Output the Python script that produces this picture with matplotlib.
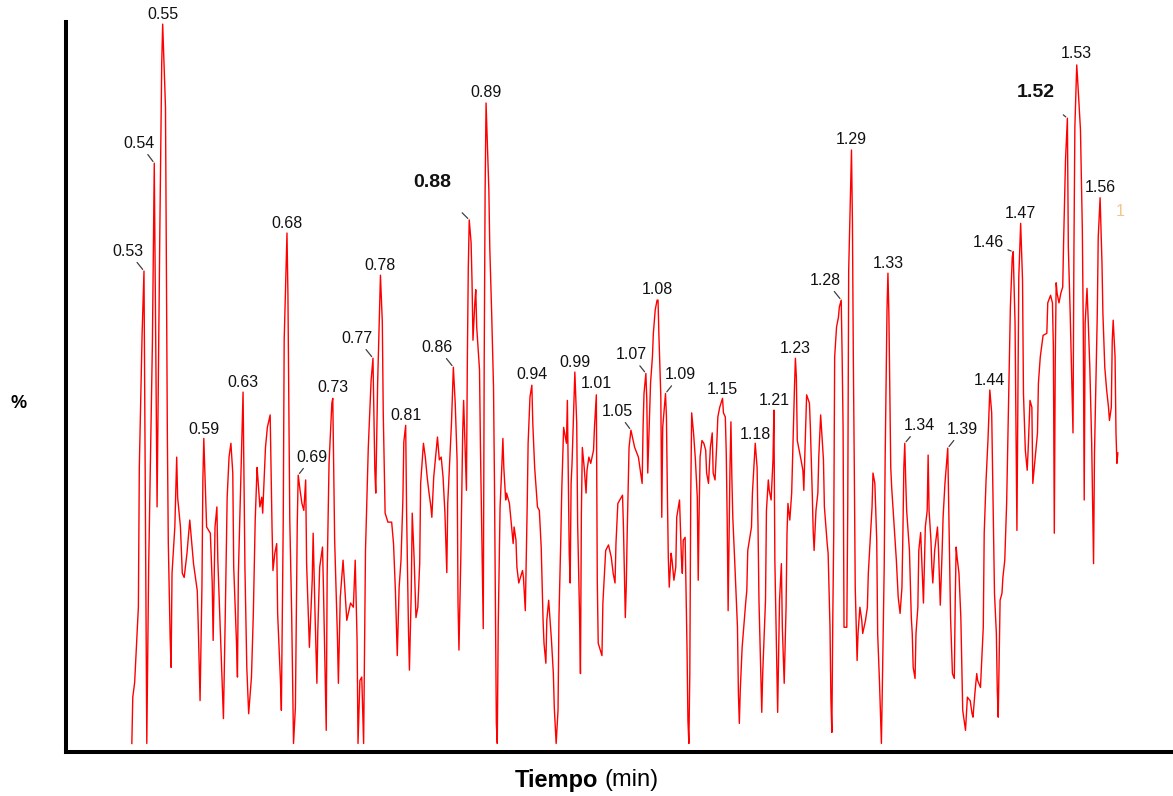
import numpy as np
import matplotlib
matplotlib.use("Agg")
from matplotlib import pyplot as plt

plt.rcParams['font.family'] = ['Liberation Sans', 'DejaVu Sans']

# retention time (min) of each vertex of the trace
tiempo = np.array([
    0.518, 0.519, 0.521, 0.525, 0.526, 0.529, 0.531, 0.534, 0.536, 0.540,
    0.542, 0.545, 0.548, 0.550, 0.551, 0.554, 0.555, 0.556, 0.557, 0.559,
    0.560, 0.561, 0.564, 0.566, 0.567, 0.570, 0.572, 0.574, 0.577, 0.580,
    0.584, 0.588, 0.589, 0.591, 0.593, 0.594, 0.595, 0.598, 0.602, 0.604,
    0.605, 0.607, 0.609, 0.610, 0.612, 0.616, 0.618, 0.620, 0.622, 0.624,
    0.626, 0.627, 0.630, 0.631, 0.632, 0.634, 0.636, 0.637, 0.639, 0.641,
    0.643, 0.646, 0.648, 0.650, 0.652, 0.653, 0.655, 0.657, 0.658, 0.661,
    0.663, 0.666, 0.668, 0.669, 0.671, 0.673, 0.674, 0.677, 0.678, 0.680,
    0.681, 0.683, 0.684, 0.685, 0.686, 0.687, 0.689, 0.691, 0.693, 0.695,
    0.696, 0.698, 0.700, 0.702, 0.704, 0.705, 0.708, 0.711, 0.712, 0.714,
    0.716, 0.717, 0.719, 0.722, 0.723, 0.726, 0.727, 0.729, 0.732, 0.733,
    0.735, 0.738, 0.739, 0.741, 0.744, 0.746, 0.748, 0.752, 0.755, 0.757,
    0.759, 0.760, 0.762, 0.764, 0.766, 0.768, 0.770, 0.771, 0.774, 0.776,
    0.778, 0.779, 0.781, 0.783, 0.784, 0.786, 0.787, 0.789, 0.792, 0.796,
    0.798, 0.800, 0.802, 0.804, 0.806, 0.808, 0.809, 0.811, 0.812, 0.814,
    0.815, 0.817, 0.818, 0.820, 0.822, 0.824, 0.826, 0.827, 0.830, 0.832,
    0.834, 0.836, 0.838, 0.839, 0.841, 0.845, 0.847, 0.849, 0.851, 0.853,
    0.855, 0.856, 0.860, 0.862, 0.864, 0.866, 0.867, 0.868, 0.870, 0.872,
    0.873, 0.875, 0.876, 0.877, 0.878, 0.879, 0.881, 0.882, 0.883, 0.885,
    0.886, 0.887, 0.890, 0.891, 0.893, 0.894, 0.895, 0.896, 0.897, 0.898,
    0.900, 0.901, 0.903, 0.905, 0.906, 0.907, 0.908, 0.909, 0.910, 0.912,
    0.914, 0.915, 0.916, 0.918, 0.919, 0.922, 0.924, 0.926, 0.927, 0.929,
    0.930, 0.932, 0.936, 0.937, 0.939, 0.941, 0.942, 0.944, 0.946, 0.947,
    0.949, 0.952, 0.954, 0.956, 0.958, 0.959, 0.961, 0.962, 0.964, 0.967,
    0.969, 0.970, 0.972, 0.974, 0.975, 0.977, 0.978, 0.980, 0.983, 0.984,
    0.986, 0.987, 0.988, 0.989, 0.991, 0.992, 0.994, 0.995, 0.997, 0.998,
    0.999, 1.000, 1.002, 1.004, 1.005, 1.007, 1.009, 1.012, 1.013, 1.015,
    1.016, 1.017, 1.021, 1.022, 1.025, 1.028, 1.031, 1.033, 1.035, 1.036,
    1.038, 1.043, 1.044, 1.046, 1.047, 1.048, 1.050, 1.052, 1.056, 1.060,
    1.063, 1.064, 1.065, 1.066, 1.068, 1.069, 1.070, 1.073, 1.075, 1.076,
    1.078, 1.080, 1.081, 1.082, 1.084, 1.085, 1.086, 1.089, 1.090, 1.091,
    1.092, 1.093, 1.095, 1.096, 1.098, 1.100, 1.101, 1.104, 1.106, 1.107,
    1.108, 1.110, 1.112, 1.113, 1.114, 1.115, 1.116, 1.117, 1.119, 1.121,
    1.123, 1.124, 1.125, 1.126, 1.128, 1.130, 1.132, 1.133, 1.135, 1.137,
    1.139, 1.140, 1.142, 1.144, 1.145, 1.147, 1.150, 1.151, 1.153, 1.154,
    1.155, 1.156, 1.158, 1.159, 1.160, 1.161, 1.163, 1.166, 1.167, 1.168,
    1.169, 1.171, 1.173, 1.175, 1.176, 1.177, 1.181, 1.182, 1.184, 1.185,
    1.187, 1.188, 1.189, 1.191, 1.192, 1.193, 1.196, 1.197, 1.199, 1.200,
    1.202, 1.203, 1.204, 1.205, 1.206, 1.208, 1.209, 1.211, 1.213, 1.214,
    1.216, 1.218, 1.219, 1.220, 1.222, 1.224, 1.226, 1.227, 1.228, 1.229,
    1.230, 1.232, 1.234, 1.236, 1.237, 1.238, 1.240, 1.243, 1.244, 1.246,
    1.247, 1.248, 1.250, 1.252, 1.253, 1.255, 1.258, 1.259, 1.262, 1.263,
    1.265, 1.266, 1.267, 1.268, 1.269, 1.270, 1.272, 1.274, 1.275, 1.277,
    1.278, 1.279, 1.280, 1.283, 1.284, 1.285, 1.288, 1.289, 1.290, 1.291,
    1.292, 1.294, 1.295, 1.297, 1.299, 1.300, 1.303, 1.305, 1.306, 1.308,
    1.310, 1.311, 1.313, 1.315, 1.316, 1.318, 1.320, 1.321, 1.323, 1.324,
    1.325, 1.326, 1.327, 1.328, 1.329, 1.330, 1.331, 1.334, 1.336, 1.338,
    1.340, 1.342, 1.343, 1.344, 1.345, 1.346, 1.347, 1.350, 1.352, 1.353,
    1.354, 1.356, 1.357, 1.359, 1.360, 1.362, 1.364, 1.365, 1.367, 1.369,
    1.370, 1.371, 1.373, 1.374, 1.375, 1.377, 1.380, 1.381, 1.383, 1.385,
    1.386, 1.388, 1.390, 1.391, 1.392, 1.394, 1.396, 1.398, 1.399, 1.400,
    1.401, 1.403, 1.405, 1.406, 1.407, 1.410, 1.412, 1.413, 1.415, 1.417,
    1.418, 1.420, 1.422, 1.423, 1.426, 1.427, 1.429, 1.430, 1.432, 1.434,
    1.436, 1.438, 1.440, 1.441, 1.443, 1.444, 1.445, 1.447, 1.449, 1.450,
    1.452, 1.454, 1.456, 1.458, 1.460, 1.461, 1.463, 1.465, 1.467, 1.469,
    1.471, 1.472, 1.474, 1.476, 1.477, 1.479, 1.481, 1.482, 1.484, 1.487,
    1.488, 1.490, 1.493, 1.497, 1.498, 1.501, 1.503, 1.504, 1.505, 1.506,
    1.507, 1.508, 1.510, 1.512, 1.514, 1.515, 1.517, 1.519, 1.520, 1.522,
    1.524, 1.525, 1.526, 1.527, 1.529, 1.530, 1.533, 1.535, 1.536, 1.537,
    1.538, 1.540, 1.541, 1.543, 1.545, 1.547, 1.548, 1.551, 1.552, 1.554,
    1.556, 1.557, 1.559, 1.561, 1.563, 1.564, 1.566, 1.567, 1.568, 1.570,
    1.571, 1.572, 1.573,
])

# detector signal (raw units)
senal = np.array([
    0.0, 6.7, 8.8, 19.7, 39.9, 59.3, 68.3, 0.0, 25.5, 57.9,
    83.9, 34.2, 74.7, 98.5, 104.0, 92.0, 68.2, 44.6, 29.1, 15.3,
    11.0, 24.6, 31.3, 41.4, 35.6, 31.3, 24.6, 24.0, 27.5, 32.3,
    26.0, 22.1, 17.4, 6.2, 22.6, 38.1, 44.1, 31.3, 30.4, 23.2,
    14.9, 31.3, 34.2, 26.5, 18.8, 3.6, 18.8, 35.6, 41.4, 43.4,
    39.1, 25.5, 14.5, 9.6, 24.6, 35.2, 45.3, 50.8, 25.5, 11.0,
    4.3, 9.6, 18.8, 32.3, 39.9, 38.1, 34.2, 35.6, 33.3, 42.8,
    45.7, 47.5, 31.3, 25.0, 27.5, 28.9, 18.8, 9.1, 4.8, 32.3,
    58.3, 68.9, 73.8, 65.1, 47.8, 32.3, 18.8, 0.0, 5.2, 31.8,
    38.8, 36.6, 34.7, 33.7, 38.1, 26.0, 13.9, 23.6, 30.4, 18.8,
    8.7, 16.4, 25.5, 28.4, 22.6, 1.9, 24.6, 40.5, 49.2, 49.9,
    29.4, 15.3, 8.7, 21.1, 26.5, 22.1, 17.8, 20.3, 19.7, 26.5,
    14.9, 0.0, 9.1, 9.6, 0.0, 27.9, 38.1, 42.8, 52.5, 55.7,
    39.5, 36.2, 52.1, 62.2, 67.7, 60.9, 47.8, 33.3, 32.0, 32.0,
    28.9, 22.1, 12.7, 22.6, 26.5, 35.2, 43.6, 46.0, 33.3, 16.4,
    10.6, 22.1, 33.3, 26.9, 18.2, 19.7, 26.0, 37.6, 43.4, 41.4,
    38.5, 36.2, 34.2, 32.7, 38.5, 44.3, 41.0, 41.4, 38.5, 33.3,
    24.7, 34.7, 46.3, 54.4, 49.2, 41.0, 20.3, 13.5, 26.9, 44.9,
    49.6, 41.0, 36.6, 55.7, 68.9, 75.7, 72.4, 66.7, 58.3, 63.7,
    65.6, 60.2, 54.0, 42.8, 25.5, 16.6, 54.7, 80.0, 92.6, 88.4,
    80.0, 71.6, 62.2, 51.4, 37.6, 20.3, 2.9, 0.0, 16.8, 34.2,
    40.5, 44.1, 39.9, 35.2, 36.2, 34.7, 31.8, 28.9, 31.3, 29.4,
    25.5, 23.2, 25.0, 24.0, 19.2, 34.2, 43.4, 50.1, 51.8, 46.3,
    39.9, 34.2, 33.7, 28.4, 17.8, 14.5, 11.6, 17.8, 20.7, 14.9,
    10.1, 5.2, 0.0, 4.8, 18.2, 29.8, 36.6, 45.7, 43.4, 49.6,
    27.5, 23.2, 37.6, 40.5, 49.2, 53.7, 46.3, 31.8, 18.8, 10.1,
    33.3, 42.8, 39.9, 36.2, 39.5, 41.4, 40.5, 42.4, 45.7, 50.4,
    23.6, 14.5, 12.7, 20.3, 27.9, 28.7, 26.9, 24.6, 23.2, 28.9,
    34.7, 35.9, 31.3, 18.2, 22.6, 30.4, 42.8, 45.3, 42.8, 41.4,
    38.5, 37.6, 45.7, 50.6, 53.5, 49.6, 39.1, 52.1, 55.9, 59.3,
    62.7, 64.1, 64.1, 58.8, 50.1, 32.7, 45.7, 50.6, 47.2, 36.2,
    26.9, 22.6, 27.5, 26.5, 23.6, 25.5, 32.7, 35.2, 26.9, 24.6,
    29.4, 29.8, 13.9, 3.3, 0.0, 10.1, 35.6, 47.8, 44.9, 41.0,
    35.6, 23.6, 33.7, 41.4, 43.8, 43.4, 42.4, 39.1, 37.6, 42.8,
    44.9, 39.1, 38.1, 43.8, 47.2, 48.6, 49.9, 47.8, 47.2, 42.0,
    32.3, 19.2, 39.9, 46.5, 38.5, 32.7, 26.5, 16.8, 7.2, 2.9,
    7.7, 13.9, 17.4, 20.7, 22.1, 27.9, 31.3, 36.2, 41.0, 43.4,
    39.9, 31.3, 20.7, 10.1, 4.5, 10.1, 20.7, 33.7, 38.1, 36.6,
    35.2, 38.1, 41.0, 48.2, 26.5, 12.0, 4.5, 20.7, 26.0, 16.8,
    8.7, 19.7, 30.4, 34.7, 32.3, 36.2, 46.7, 51.5, 55.7, 53.0,
    43.8, 42.4, 41.0, 39.5, 36.6, 41.4, 50.4, 49.2, 45.7, 36.2,
    30.8, 27.9, 33.7, 36.2, 41.4, 47.5, 41.0, 34.2, 28.9, 27.5,
    16.8, 6.2, 1.6, 18.2, 30.4, 55.9, 60.2, 61.6, 63.1, 64.1,
    55.9, 45.7, 16.8, 16.8, 34.2, 68.4, 85.8, 75.4, 55.1, 39.9,
    22.6, 12.0, 15.9, 19.7, 17.8, 15.9, 17.8, 19.7, 24.6, 29.4,
    34.2, 39.1, 37.6, 29.4, 15.9, 8.7, 0.0, 8.1, 25.5, 41.0,
    52.5, 62.7, 68.0, 62.2, 51.5, 39.9, 37.0, 30.8, 26.5, 21.1,
    18.8, 22.6, 30.4, 39.9, 43.4, 38.1, 33.7, 27.9, 18.2, 15.9,
    11.0, 9.4, 15.9, 19.7, 27.9, 30.5, 23.6, 20.3, 31.3, 33.7,
    41.7, 33.7, 29.4, 25.5, 23.2, 27.9, 31.3, 28.4, 20.0, 27.9,
    32.7, 37.6, 41.0, 42.7, 34.2, 18.2, 10.1, 9.4, 20.7, 28.4,
    26.9, 24.6, 18.2, 11.6, 4.8, 1.9, 6.7, 6.5, 6.2, 4.3,
    3.8, 7.2, 10.1, 9.1, 8.1, 11.0, 16.8, 30.4, 38.1, 43.8,
    51.1, 47.8, 30.4, 21.7, 15.9, 7.7, 3.8, 20.7, 21.7, 24.0,
    26.5, 34.7, 48.6, 63.1, 70.3, 71.1, 60.8, 30.8, 67.4, 75.2,
    67.0, 50.6, 42.4, 39.5, 42.4, 49.6, 48.6, 37.6, 40.5, 44.9,
    52.1, 55.9, 59.0, 59.3, 63.7, 64.8, 63.7, 57.3, 30.4, 55.0,
    66.6, 65.1, 63.7, 65.1, 66.0, 72.8, 84.4, 90.4, 71.8, 62.2,
    50.6, 44.9, 71.3, 89.1, 98.1, 95.9, 88.7, 74.2, 59.8, 35.2,
    60.8, 65.8, 62.2, 54.4, 43.4, 26.0, 42.0, 62.2, 73.2, 78.9,
    69.5, 62.2, 54.4, 51.1, 48.6, 46.7, 48.6, 58.3, 61.2, 55.9,
    44.9, 40.5, 42.0,
])

# labelled peaks (retention time shown and where the apex sits)
etiquetas = ['0.53', '0.54', '0.55', '0.59', '0.63', '0.68', '0.69', '0.73',
             '0.77', '0.78', '0.81', '0.86', '0.88', '0.89', '0.94', '0.99',
             '1.01', '1.05', '1.07', '1.08', '1.09', '1.15', '1.18', '1.21',
             '1.23', '1.28', '1.29', '1.33', '1.34', '1.39', '1.44', '1.46',
             '1.47', '1.52', '1.53', '1.56']
tiempo_pico = [0.531, 0.542, 0.551, 0.595, 0.637, 0.684, 0.696, 0.733,
               0.776, 0.784, 0.811, 0.862, 0.879, 0.897, 0.946, 0.992,
               1.015, 1.052, 1.068, 1.080, 1.089, 1.150, 1.185, 1.205,
               1.228, 1.277, 1.288, 1.327, 1.345, 1.391, 1.436, 1.461,
               1.469, 1.519, 1.529, 1.554]
destacados = ['0.88', '1.52']

# text offsets from apex in pixels, and whether a leader line is drawn
desplaz = {'0.53': (-16, 20, True), '0.54': (-15, 20, True), '0.55': (0, 10, False),
           '0.59': (0, 9, False), '0.63': (0, 10, False), '0.68': (0, 10, False),
           '0.69': (14, 18, True), '0.73': (0, 11, False), '0.77': (-16, 20, True),
           '0.78': (0, 10, False), '0.81': (0, 10, False), '0.86': (-16, 20, True),
           '0.88': (-37, 37, True), '0.89': (0, 10, False), '0.94': (0, 11, False),
           '0.99': (0, 10, False), '1.01': (0, 11, False), '1.05': (-14, 19, True),
           '1.07': (-15, 19, True), '1.08': (0, 11, False), '1.09': (15, 19, True),
           '1.15': (0, 9, False), '1.18': (0, 9, False), '1.21': (0, 10, False),
           '1.23': (0, 10, False), '1.28': (-16, 20, True), '1.29': (0, 11, False),
           '1.33': (0, 10, False), '1.34': (15, 18, True), '1.39': (15, 19, True),
           '1.44': (0, 10, False), '1.46': (-25, 9, True), '1.47': (0, 10, False),
           '1.52': (-32, 26, True), '1.53': (0, 11, False), '1.56': (0, 10, False)}
# gap between bold labels and their (short) leader lines, in points
hueco = {'0.88': 19, '1.52': 13}

# relative abundance, base peak = 100 %
porcentaje = senal / senal.max() * 100

fig = plt.figure(figsize=(11.73, 7.96), dpi=100)
ax = fig.add_axes([0.0563, 0.0547, 0.9437, 0.9177])

ax.plot(tiempo, porcentaje, color='#ff0000', lw=1.0)

for txt, tp in zip(etiquetas, tiempo_pico):
    i = np.argmin(np.abs(tiempo - tp))
    dx, dy, linea = desplaz[txt]
    negrita = txt in destacados
    ap = None
    if linea:
        ap = dict(arrowstyle='-', color='#404040', lw=0.9,
                  shrinkA=hueco.get(txt, 1), shrinkB=1.5)
    ax.annotate(txt, xy=(tiempo[i], porcentaje[i]), xytext=(dx, dy),
                textcoords='offset pixels', ha='center', va='center',
                fontsize=14 if negrita else 11.5,
                fontweight='bold' if negrita else 'normal',
                color='#111111', arrowprops=ap)

# label cut off at the right edge in the original
fig.text(1116 / 1173, 1 - 211 / 796, '1', color='#f0c78a', fontsize=11.5,
         ha='left', va='center')

ax.set_xlim(0.4476, 1.632)
ax.set_ylim(-1.25, 100.3)
ax.set_xticks([])
ax.set_yticks([])
for s in ['top', 'right']:
    ax.spines[s].set_visible(False)
for s in ['left', 'bottom']:
    ax.spines[s].set_linewidth(2.9)
    ax.spines[s].set_color('black')

fig.text(19 / 1173, 1 - 404 / 796, '%', fontsize=13, fontweight='bold',
         ha='center', va='center')

t1 = fig.text(515 / 1173, 0.0195, 'Tiempo', fontsize=17, fontweight='bold',
              ha='left', va='center')
fig.canvas.draw()
bb = t1.get_window_extent()
fig.text((bb.x1 + 6) / 1173, 0.0195, '(min)', fontsize=17, ha='left', va='center')

fig.savefig('out.png', dpi=100)
